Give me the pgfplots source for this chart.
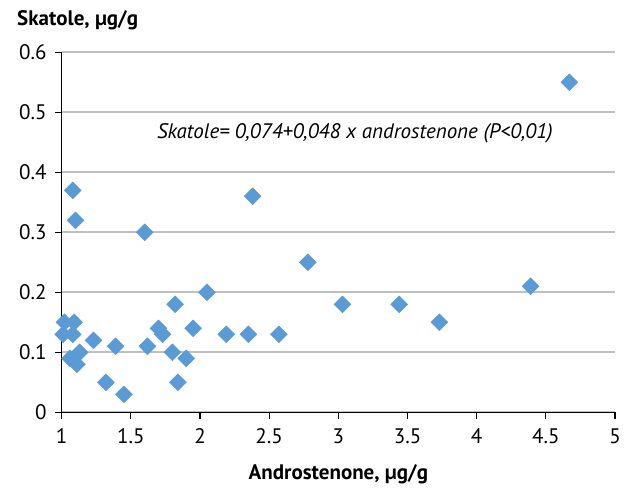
\documentclass[border=0pt]{standalone}
\usepackage{fontspec}
\setmainfont{PT Sans}
\usepackage{pgfplots}
\pgfplotsset{compat=1.18}
\definecolor{marker}{HTML}{5B9BD5}
\definecolor{gridgray}{HTML}{C0C0C0}

\begin{document}
\fontsize{21}{24}\selectfont
\begin{tikzpicture}[x=1pt,y=1pt]
\useasboundingbox (0,0) rectangle (627,488);
\begin{axis}[
  at={(61.7pt,75.7pt)}, anchor=south west,
  scale only axis,
  width=553.3pt, height=360pt,
  xmin=1, xmax=5, ymin=0, ymax=0.6,
  xtick={1,1.5,...,5}, ytick={0,0.1,...,0.6},
  axis x line*=bottom, axis y line*=left,
  axis line style={black, line width=1.2pt},
  tick style={black, line width=1.2pt},
  tick align=outside, major tick length=7pt,
  ymajorgrids, grid style={gridgray, line width=2pt},
  /pgf/number format/assume math mode=true,
  /pgf/number format/fixed,
  xticklabel style={yshift=-2pt},
  yticklabel style={xshift=-1pt},
  xlabel={\bfseries Androstenone, µg/g},
  xlabel style={yshift=-7pt},
  clip=false,
]
\addplot[only marks, mark=square*, mark size=6pt,
  mark options={fill=marker, draw=marker, rotate=45}]
  coordinates {
  (1.02,0.15) (1.09,0.15) (1.01,0.13) (1.08,0.13)
  (1.06,0.09) (1.13,0.10) (1.11,0.08) (1.23,0.12)
  (1.08,0.37) (1.10,0.32) (1.32,0.05) (1.39,0.11)
  (1.45,0.03) (1.60,0.30) (1.62,0.11) (1.70,0.14)
  (1.73,0.13) (1.80,0.10) (1.82,0.18) (1.84,0.05)
  (1.90,0.09) (1.95,0.14) (2.05,0.20) (2.19,0.13)
  (2.35,0.13) (2.38,0.36) (2.57,0.13) (2.78,0.25)
  (3.03,0.18) (3.44,0.18) (3.73,0.15) (4.39,0.21)
  (4.67,0.55)
  };
\node[font=\itshape] at (axis cs:3.12,0.4655)
  {Skatole= 0,074+0,048 x androstenone (P<0,01)};
\end{axis}
\node[anchor=west] at (10,468) {\bfseries Skatole, µg/g};
\end{tikzpicture}
\end{document}
